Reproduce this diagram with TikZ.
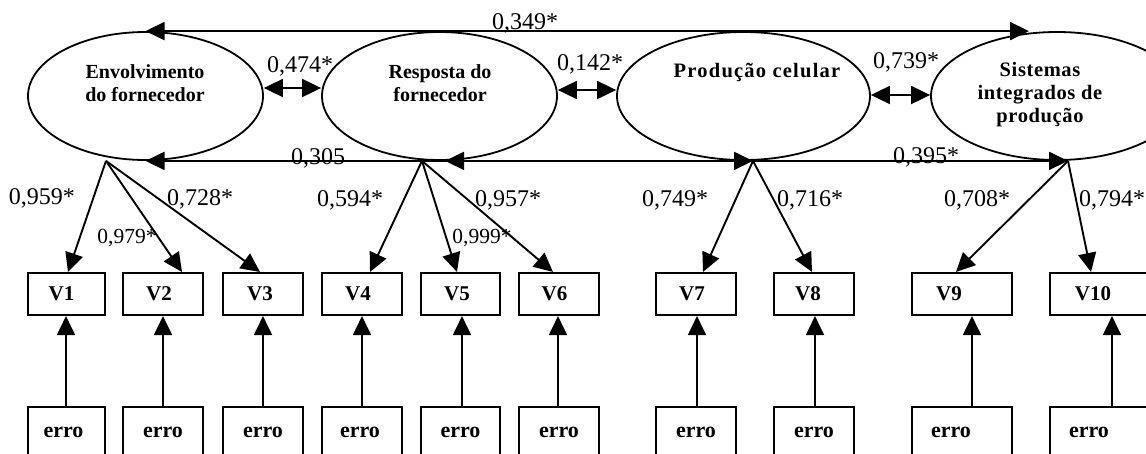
\documentclass[tikz,border=0pt]{standalone}
\usepackage{fontspec}
\setmainfont{Liberation Serif}
\usetikzlibrary{arrows.meta,shapes.geometric}
\begin{document}
\begin{tikzpicture}[x=1pt,y=-1pt,
  every node/.style={inner sep=0pt},
  ell/.style={draw, ellipse, line width=1.8pt, minimum width=#1, minimum height=128pt},
  lat/.style={font=\fontsize{20}{23}\selectfont\bfseries, align=center},
  varbox/.style={draw, line width=2.1pt, minimum height=42pt, font=\fontsize{21}{24}\selectfont\bfseries},
  errbox/.style={draw, line width=2.1pt, minimum height=50pt, font=\fontsize{22}{24}\selectfont\bfseries},
  arr/.style={line width=1.9pt, -{Triangle[length=19pt,width=18pt]}},
  darr/.style={line width=1.9pt, {Triangle[length=19pt,width=18pt]}-{Triangle[length=19pt,width=18pt]}},
  coef/.style={font=\fontsize{24}{27}\selectfont},
  coefs/.style={font=\fontsize{21.5}{24}\selectfont}
]
\useasboundingbox (0,0) rectangle (1146,453);
\clip (0,0) rectangle (1146,453);

% latent variables
\node[ell=235pt] (E1) at (145.5,96) {};
\node[ell=235pt] (E2) at (439.5,96) {};
\node[ell=253pt] (E3) at (743.5,96) {};
\node[ell=252pt] (E4) at (1057,96) {};
\node[lat] (T1) at (145,83.5) {Envolvimento\\do fornecedor};
\node[lat] (T2) at (440,83.5) {Resposta do\\fornecedor};
\node[lat, font=\fontsize{20.5}{23}\selectfont\bfseries\addfontfeature{LetterSpace=6}] (T3) at (757,72) {Produção celular};
\node[lat, font=\fontsize{20.5}{23}\selectfont\bfseries\addfontfeature{LetterSpace=3}] (T4) at (1040,95) {Sistemas\\integrados de\\produção};

% observed variables
\node[varbox, minimum width=77pt] (V1) at (66.5,294) {V1\hspace*{10pt}};
\node[varbox, minimum width=80pt] (V2) at (163,294) {V2\hspace*{8pt}};
\node[varbox, minimum width=80pt] (V3) at (263,294) {V3\hspace*{6pt}};
\node[varbox, minimum width=80pt] (V4) at (362,294) {V4\hspace*{8pt}};
\node[varbox, minimum width=79pt] (V5) at (460.5,294) {V5\hspace*{7pt}};
\node[varbox, minimum width=80pt] (V6) at (559,294) {V6\hspace*{9pt}};
\node[varbox, minimum width=80pt] (V7) at (696,294) {V7\hspace*{8pt}};
\node[varbox, minimum width=80pt] (V8) at (814,294) {V8\hspace*{12pt}};
\node[varbox, minimum width=100pt] (V9) at (962,294) {V9\hspace*{26pt}};
\node[varbox, minimum width=100pt] (V10) at (1100,294) {V10\hspace*{14pt}};

% error terms
\node[errbox, minimum width=77pt] (R1) at (66.5,432) {erro\hspace*{6pt}};
\node[errbox, minimum width=80pt] (R2) at (163,432) {erro};
\node[errbox, minimum width=80pt] (R3) at (263,432) {erro};
\node[errbox, minimum width=80pt] (R4) at (362,432) {erro\hspace*{4pt}};
\node[errbox, minimum width=79pt] (R5) at (460.5,432) {erro};
\node[errbox, minimum width=80pt] (R6) at (559,432) {erro};
\node[errbox, minimum width=80pt] (R7) at (696,432) {erro};
\node[errbox, minimum width=80pt] (R8) at (814,432) {erro};
\node[errbox, minimum width=100pt] (R9) at (962,432) {erro\hspace*{22pt}};
\node[errbox, minimum width=100pt] (R10) at (1100,432) {erro\hspace*{22pt}};

% correlations
\draw[darr] (E1.north) -- ([xshift=-28pt]E4.north);
\draw[darr] (E1.south) -- ([xshift=9.5pt]E3.south);
\draw[darr] ([xshift=5.5pt]E2.south) -- ([xshift=11pt]E4.south);
\draw[darr] ([yshift=8pt]E1.east) -- ([yshift=8pt]E2.west);
\draw[darr] ([yshift=6pt]E2.east) -- ([yshift=6pt]E3.west);
\draw[darr] ([yshift=1pt]E3.east) -- ([yshift=1pt]E4.west);

% loading origins
\coordinate (F1) at ([xshift=-39.5pt]E1.south);
\coordinate (F2) at ([xshift=-17.5pt]E2.south);
\coordinate (F3) at ([xshift=9.5pt]E3.south);
\coordinate (F4) at ([xshift=11pt]E4.south);

% loadings
\draw[arr] (F1) -- ([xshift=1.5pt]V1.north);
\draw[arr] (F1) -- ([xshift=19pt]V2.north);
\draw[arr] (F1) -- ([xshift=-3pt]V3.north);
\draw[arr] (F2) -- ([xshift=8pt]V4.north);
\draw[arr] (F2) -- ([xshift=-3.5pt]V5.north);
\draw[arr] (F2) -- ([xshift=-6pt]V6.north);
\draw[arr] (F3) -- ([xshift=7pt]V7.north);
\draw[arr] (F3) -- ([xshift=-2pt]V8.north);
\draw[arr] (F4) -- ([xshift=-6pt]V9.north);
\draw[arr] (F4) -- ([xshift=-9pt]V10.north);

% error arrows
\draw[arr] ([xshift=-0.5pt]R1.north) -- ([xshift=-0.5pt]V1.south);
\draw[arr] (R2.north) -- (V2.south);
\draw[arr] (R3.north) -- (V3.south);
\draw[arr] (R4.north) -- (V4.south);
\draw[arr] ([xshift=1.5pt]R5.north) -- ([xshift=1.5pt]V5.south);
\draw[arr] ([xshift=-1pt]R6.north) -- ([xshift=-1pt]V6.south);
\draw[arr] ([xshift=1pt]R7.north) -- ([xshift=1pt]V7.south);
\draw[arr] ([xshift=1pt]R8.north) -- ([xshift=1pt]V8.south);
\draw[arr] ([xshift=10pt]R9.north) -- ([xshift=10pt]V9.south);
\draw[arr] ([xshift=12pt]R10.north) -- ([xshift=12pt]V10.south);

% coefficient labels
\node[coef] (c349) at (525,23) {0,349*};
\node[coef] (c474) at (300,66) {0,474*};
\node[coef] (c142) at (590,64) {0,142*};
\node[coef] (c739) at (906,62) {0,739*};
\node[coef] (c305) at (318,158) {0,305};
\node[coef] (c395) at (926,157) {0,395*};
\node[coef] (c959) at (42,198) {0,959*};
\node[coefs] (c979) at (127,238) {0,979*};
\node[coef] (c728) at (200,199) {0,728*};
\node[coef] (c594) at (350,200) {0,594*};
\node[coefs] (c999) at (482,238) {0,999*};
\node[coef] (c957) at (508,200) {0,957*};
\node[coef] (c749) at (675,200) {0,749*};
\node[coef] (c716) at (810,200) {0,716*};
\node[coef] (c708) at (977,200) {0,708*};
\node[coef] (c794) at (1112,200) {0,794*};
\end{tikzpicture}
\end{document}
